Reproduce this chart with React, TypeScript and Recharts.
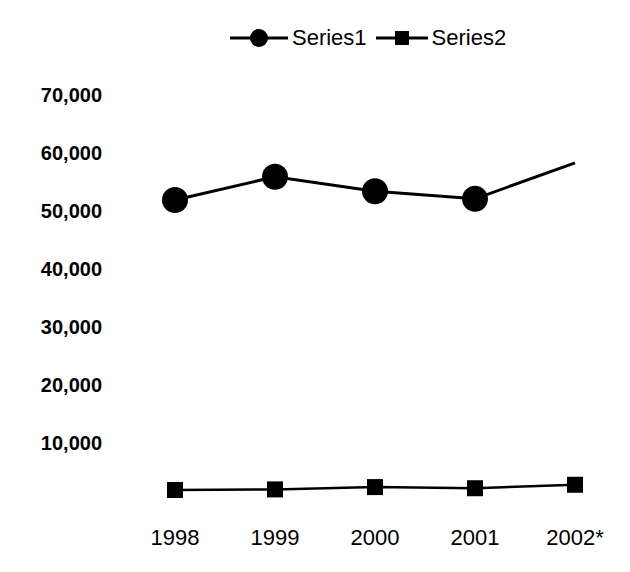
import React from 'react';
import { LineChart, Line, XAxis, YAxis, Legend } from 'recharts';

const years = ['1998', '1999', '2000', '2001', '2002*'];
const series1 = [51900, 55900, 53400, 52100, 58300];
const series2 = [1900, 2000, 2400, 2200, 2800];
const yTicks = [10000, 20000, 30000, 40000, 50000, 60000, 70000];

const FONT = '"Liberation Sans", Arial, sans-serif';

const chartData = years.map((year, i) => ({
  year,
  series1: series1[i],
  series2: series2[i]
}));

// Series1 has no marker on the last (estimated) year
const CircleDot = (props: any) => {
  const { cx, cy, index } = props;
  if (index === years.length - 1 || cx == null) return <g key={`c-${index}`} />;
  return <circle key={`c-${index}`} cx={cx} cy={cy} r={13} fill="#000" />;
};

const SquareDot = (props: any) => {
  const { cx, cy, index } = props;
  if (cx == null) return <g key={`s-${index}`} />;
  return <rect key={`s-${index}`} x={cx - 8} y={cy - 8} width={16} height={16} fill="#000" />;
};

const LegendContent = () => (
  <div style={{ display: 'flex', alignItems: 'center', height: 40, fontFamily: FONT, fontSize: 22, color: '#000' }}>
    <svg width={58} height={20} style={{ marginRight: 4 }}>
      <line x1={0} y1={10} x2={58} y2={10} stroke="#000" strokeWidth={3} />
      <circle cx={29} cy={10} r={9} fill="#000" />
    </svg>
    <span style={{ marginRight: 9 }}>Series1</span>
    <svg width={52} height={20} style={{ marginRight: 4 }}>
      <line x1={0} y1={10} x2={52} y2={10} stroke="#000" strokeWidth={3} />
      <rect x={19} y={3} width={14} height={14} fill="#000" />
    </svg>
    <span>Series2</span>
  </div>
);

const App: React.FC = () => {
  return (
    <div style={{ width: 630, height: 572, background: '#fff' }}>
      <style>{'body{margin:0;}'}</style>
      <LineChart
        width={630}
        height={572}
        data={chartData}
        margin={{ top: 55, right: 5, left: 25, bottom: 31 }}
      >
        <XAxis
          dataKey="year"
          axisLine={false}
          tickLine={false}
          tickSize={0}
          tickMargin={28}
          height={40}
          interval={0}
          padding={{ left: 50, right: 50 }}
          tick={{ fill: '#000', fontSize: 22, fontFamily: FONT }}
        />
        <YAxis
          domain={[0, 70000]}
          ticks={yTicks}
          axisLine={false}
          tickLine={false}
          tickSize={0}
          tickMargin={23}
          width={100}
          interval={0}
          tickFormatter={(v: number) => v.toLocaleString('en-US')}
          tick={{ fill: '#000', fontSize: 20, fontWeight: 'bold', fontFamily: FONT }}
        />
        <Legend
          verticalAlign="top"
          content={<LegendContent />}
          wrapperStyle={{ top: 18, left: 230, width: 320, height: 40 }}
        />
        <Line
          type="linear"
          dataKey="series1"
          name="Series1"
          stroke="#000"
          strokeWidth={3}
          dot={<CircleDot />}
          activeDot={false}
          isAnimationActive={false}
        />
        <Line
          type="linear"
          dataKey="series2"
          name="Series2"
          stroke="#000"
          strokeWidth={2.5}
          dot={<SquareDot />}
          activeDot={false}
          isAnimationActive={false}
        />
      </LineChart>
    </div>
  );
};

export default App;
